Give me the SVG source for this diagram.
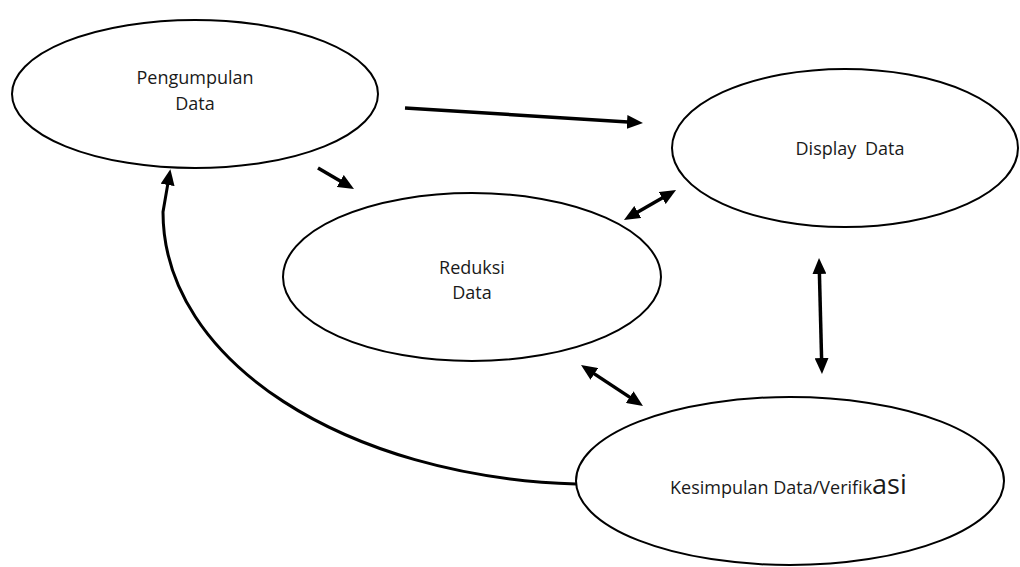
<svg xmlns="http://www.w3.org/2000/svg" width="1020" height="567" viewBox="0 0 1020 567">
<style>
.node ellipse{fill:#fff;stroke:#000;stroke-width:2}
.node text{font-family:"Open Sans","Liberation Sans",sans-serif;font-size:18px;fill:#1a1a1a;text-anchor:middle}
.conn{fill:none;stroke:#000;stroke-width:3.5}
</style>
<defs>
<marker id="ah" viewBox="0 0 16 14" markerWidth="16" markerHeight="14" markerUnits="userSpaceOnUse" refX="5" refY="7" orient="auto-start-reverse">
<path d="M0,0 L16,7 L0,14 z" fill="#000"/>
</marker>
</defs>
<rect width="1020" height="567" fill="#fff"/>
<g id="pengumpulan" class="node">
<ellipse cx="195" cy="94" rx="183" ry="74"/>
<text x="195" y="84">Pengumpulan</text>
<text x="195" y="110">Data</text>
</g>
<g id="display" class="node">
<ellipse cx="845" cy="148" rx="173" ry="79"/>
<text x="850" y="155" style="word-spacing:4px">Display Data</text>
</g>
<g id="reduksi" class="node">
<ellipse cx="472" cy="277" rx="189" ry="84"/>
<text x="472" y="274">Reduksi</text>
<text x="472" y="299">Data</text>
</g>
<g id="kesimpulan" class="node">
<ellipse cx="790" cy="481" rx="214" ry="84"/>
<text x="670" y="494" style="text-anchor:start">Kesimpulan Data/Verifik<tspan style="font-size:27px">asi</tspan></text>
</g>
<g id="connectors">
<line class="conn" x1="405" y1="108" x2="632" y2="122.3" marker-end="url(#ah)"/>
<line class="conn" x1="318" y1="168" x2="344.5" y2="183.5" marker-end="url(#ah)"/>
<line class="conn" x1="633.5" y1="214.5" x2="666.5" y2="195.5" marker-start="url(#ah)" marker-end="url(#ah)"/>
<line class="conn" x1="819.3" y1="269" x2="821.7" y2="363" marker-start="url(#ah)" marker-end="url(#ah)"/>
<line class="conn" x1="590.2" y1="371.1" x2="633.8" y2="399.9" marker-start="url(#ah)" marker-end="url(#ah)"/>
<path class="conn" style="stroke-width:3" d="M576,484 C347,477 163,362 163,212 L168.5,180" marker-end="url(#ah)"/>
</g>
</svg>
